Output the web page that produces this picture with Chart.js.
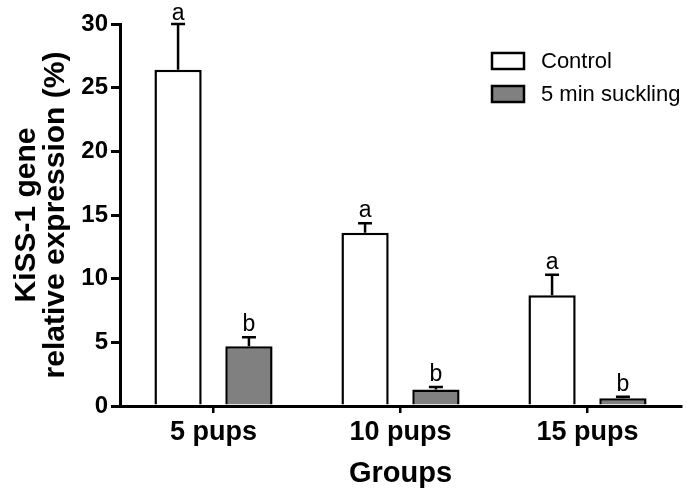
<!DOCTYPE html>
<html>
<head>
<meta charset="utf-8">
<script src="https://cdn.jsdelivr.net/npm/chart.js@4/dist/chart.umd.min.js"></script>
<style>
html,body{margin:0;padding:0;background:#fff;}
#wrap{width:692px;height:494px;position:relative;}
</style>
</head>
<body>
<div id="wrap"><canvas id="c" width="692" height="494"></canvas></div>
<script>
const categories = ["5 pups", "10 pups", "15 pups"];
const controlValues = [26.4, 13.6, 8.7];
const controlErrors = [3.6, 0.75, 1.6];
const sucklingValues = [4.7, 1.3, 0.6];
const sucklingErrors = [0.7, 0.2, 0.13];
const controlLetters = ["a", "a", "a"];
const sucklingLetters = ["b", "b", "b"];
const yTicks = [0, 5, 10, 15, 20, 25, 30];

const FONT = "'Liberation Sans', Arial, sans-serif";

const errorPlugin = {
  id: 'errbars',
  afterDatasetsDraw(chart) {
    const ctx = chart.ctx;
    const y = chart.scales.y;
    chart.data.datasets.forEach((ds, di) => {
      const meta = chart.getDatasetMeta(di);
      meta.data.forEach((bar, i) => {
        const v = ds.data[i];
        const e = ds.errors[i];
        const yTop = y.getPixelForValue(v);
        const yErr = y.getPixelForValue(v + e);
        ctx.save();
        ctx.strokeStyle = '#000';
        ctx.lineWidth = 2.5;
        ctx.beginPath();
        ctx.moveTo(bar.x, yTop);
        ctx.lineTo(bar.x, yErr);
        ctx.moveTo(bar.x - 7, yErr);
        ctx.lineTo(bar.x + 7, yErr);
        ctx.stroke();
        ctx.fillStyle = '#000';
        ctx.font = "23px " + FONT;
        ctx.textAlign = 'center';
        ctx.textBaseline = 'alphabetic';
        ctx.fillText(ds.letters[i], bar.x, Math.max(yErr - 6, 20));
        ctx.restore();
      });
    });
  }
};

const legendPlugin = {
  id: 'customLegend',
  afterDraw(chart) {
    const ctx = chart.ctx;
    const x0 = 492, rows = [61, 94];
    chart.data.datasets.forEach((ds, i) => {
      const cy = rows[i];
      ctx.save();
      ctx.fillStyle = ds.backgroundColor;
      ctx.strokeStyle = '#000';
      ctx.lineWidth = 2.5;
      ctx.fillRect(x0, cy - 8, 32, 16);
      ctx.strokeRect(x0, cy - 8, 32, 16);
      ctx.fillStyle = '#000';
      ctx.font = "22px " + FONT;
      ctx.textAlign = 'left';
      ctx.textBaseline = 'middle';
      ctx.fillText(ds.label, 541, cy + 1);
      ctx.restore();
    });
  }
};

new Chart(document.getElementById('c'), {
  type: 'bar',
  data: {
    labels: categories,
    datasets: [
      {label: 'Control', data: controlValues, errors: controlErrors, letters: controlLetters,
       backgroundColor: '#ffffff', borderColor: '#000', borderWidth: 2.5,
       categoryPercentage: 0.758, barPercentage: 0.667},
      {label: '5 min suckling', data: sucklingValues, errors: sucklingErrors, letters: sucklingLetters,
       backgroundColor: '#808080', borderColor: '#000', borderWidth: 2.5,
       categoryPercentage: 0.758, barPercentage: 0.667}
    ]
  },
  options: {
    responsive: false,
    animation: false,
    layout: {padding: {top: 24, right: 11, left: 0, bottom: 0}},
    plugins: {legend: {display: false}, tooltip: {enabled: false}},
    scales: {
      x: {
        offset: true,
        grid: {display: true, offset: false, drawOnChartArea: false, tickLength: 7, color: '#000', lineWidth: 2.5},
        border: {display: true, color: '#000', width: 3},
        ticks: {color: '#000', font: {family: FONT, size: 27, weight: 'bold'}, padding: 3, maxRotation: 0},
        title: {display: true, text: 'Groups', color: '#000', font: {family: FONT, size: 29, weight: 'bold'}, padding: {top: 0, bottom: 3}},
        afterFit(s) { s.height = 88; }
      },
      y: {
        min: 0, max: 30,
        afterBuildTicks(s) { s.ticks = yTicks.map(v => ({value: v})); },
        grid: {display: true, drawOnChartArea: false, tickLength: 9, color: '#000', lineWidth: 3},
        border: {display: true, color: '#000', width: 3},
        ticks: {color: '#000', font: {family: FONT, size: 24, weight: 'bold'}, padding: 3},
        title: {display: true, text: ['KiSS-1 gene', 'relative expression (%)'], color: '#000',
                font: {family: FONT, size: 30, weight: 'bold', lineHeight: 0.97}, padding: {top: 12, bottom: 0}},
        afterFit(s) { s.width = 120; }
      }
    }
  },
  plugins: [errorPlugin, legendPlugin]
});
</script>
</body>
</html>
